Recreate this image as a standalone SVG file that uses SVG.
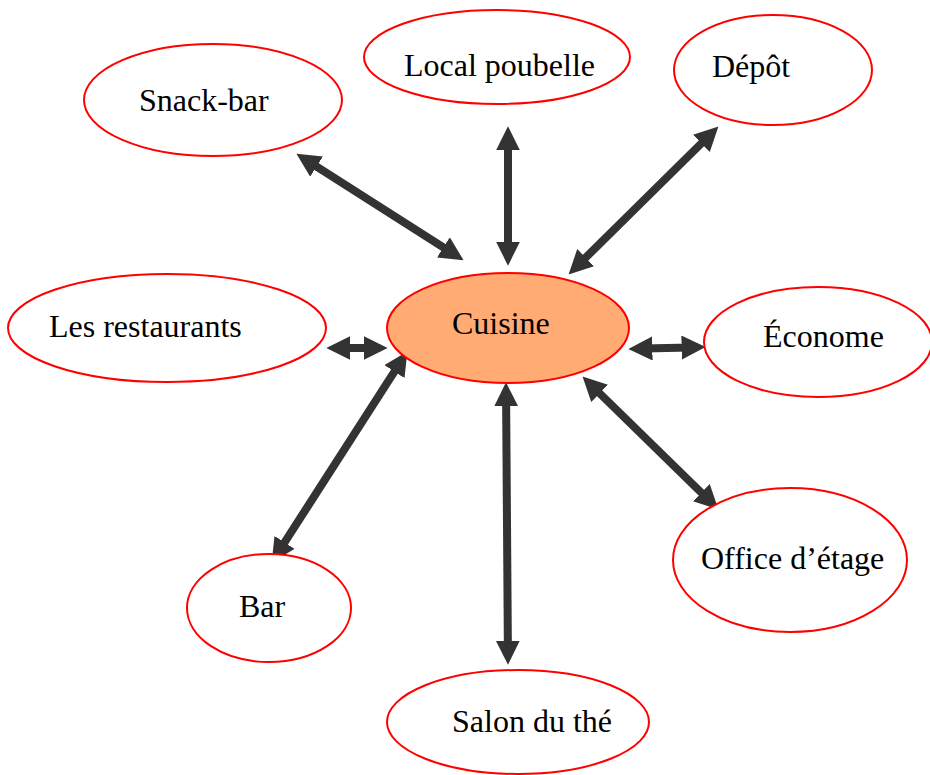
<svg xmlns="http://www.w3.org/2000/svg" width="930" height="775" viewBox="0 0 930 775">
<defs>
<style>
.node ellipse{fill:#ffffff;stroke:#ff0000;stroke-width:2}
#cuisine ellipse{fill:#ffab73}
.node text{font-family:"Liberation Serif","Times New Roman",serif;font-size:32px;fill:#000}
.conn line{stroke:#333333;stroke-width:8;marker-start:url(#ah);marker-end:url(#ah)}
</style>
<marker id="ah" markerUnits="userSpaceOnUse" markerWidth="24" markerHeight="24" viewBox="0 0 23 23" refX="8" refY="11.5" orient="auto-start-reverse">
<path d="M0,0 L23,11.5 L0,23 z" fill="#333333"/>
</marker>
</defs>
<rect width="930" height="775" fill="#ffffff"/>
<g class="conn" id="connectors">
<line x1="309.6" y1="162.1" x2="450.4" y2="251.9"/>
<line x1="508" y1="142" x2="508" y2="250"/>
<line x1="707.3" y1="137.5" x2="579.7" y2="263.5"/>
<line x1="342" y1="348" x2="372" y2="348"/>
<line x1="644" y1="348.6" x2="690" y2="347.4"/>
<line x1="398.9" y1="364.6" x2="280.1" y2="549.4"/>
<line x1="506.1" y1="398" x2="507.9" y2="649"/>
<line x1="593.7" y1="387.5" x2="707.3" y2="498.5"/>
</g>
<g class="node" id="snackbar"><ellipse cx="213" cy="100" rx="129" ry="56"/><text x="139" y="111">Snack-bar</text></g>
<g class="node" id="localpoubelle"><ellipse cx="497" cy="57" rx="133" ry="47"/><text x="404" y="76">Local poubelle</text></g>
<g class="node" id="depot"><ellipse cx="773" cy="70" rx="99" ry="55"/><text x="712" y="77">Dépôt</text></g>
<g class="node" id="restaurants"><ellipse cx="167" cy="328" rx="159" ry="54"/><text x="49" y="337">Les restaurants</text></g>
<g class="node" id="cuisine"><ellipse cx="508" cy="328" rx="121" ry="55"/><text x="452" y="334">Cuisine</text></g>
<g class="node" id="econome"><ellipse cx="818" cy="342" rx="114" ry="55"/><text x="763" y="347">Économe</text></g>
<g class="node" id="office"><ellipse cx="790" cy="560" rx="117" ry="72"/><text x="701" y="569">Office d’étage</text></g>
<g class="node" id="bar"><ellipse cx="269" cy="608" rx="82" ry="54"/><text x="239" y="617">Bar</text></g>
<g class="node" id="salon"><ellipse cx="518" cy="722" rx="131" ry="52"/><text x="452" y="732">Salon du thé</text></g>
</svg>
